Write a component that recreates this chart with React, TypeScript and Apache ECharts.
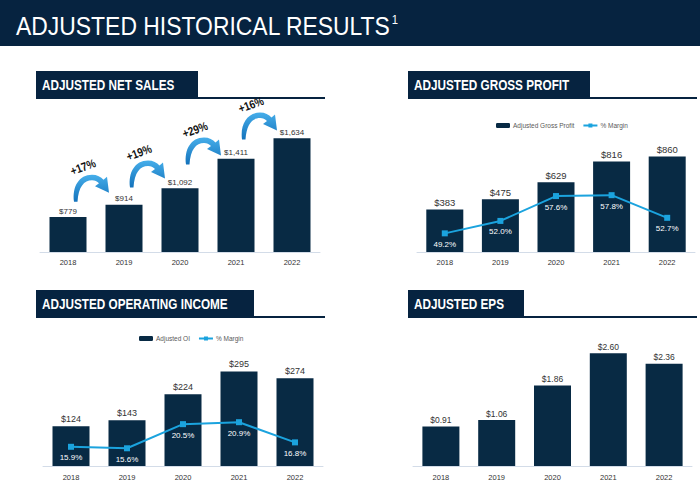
import React, { useEffect, useRef } from "react";
import * as echarts from "echarts";

// ---------- data ----------
const years = ["2018", "2019", "2020", "2021", "2022"];
const netSales = [779, 914, 1092, 1411, 1634];
const netSalesGrowth = ["+17%", "+19%", "+29%", "+16%"];
const grossProfit = [383, 475, 629, 816, 860];
const grossMargin = [49.2, 52.0, 57.6, 57.8, 52.7];
const operatingIncome = [124, 143, 224, 295, 274];
const oiMargin = [15.9, 15.6, 20.5, 20.9, 16.8];
const eps = [0.91, 1.06, 1.86, 2.6, 2.36];

const pageTitle = "ADJUSTED HISTORICAL RESULTS";
const pageTitleNote = "1";
const sectionTitles = [
  "ADJUSTED NET SALES",
  "ADJUSTED GROSS PROFIT",
  "ADJUSTED OPERATING INCOME",
  "ADJUSTED EPS",
];
const legendGross = ["Adjusted Gross Profit", "% Margin"];
const legendOI = ["Adjusted OI", "% Margin"];

// ---------- styles ----------
const FONT = "'Liberation Sans', Arial, sans-serif";
const SQUEEZE = 0.84;
const NAVY = "#082a44";
const HEADER = "#062340";
const CYAN = "#1ba3de";

const ARROW_D =
  "M1,29 C-1,14 6,2 19,2 C24,2 28,4 30.5,7 L34,4 L36,20 L22,13.5 L26,10.5 C24,8.5 22,7.5 19,7.5 C11,7.5 5.5,14 4.5,29 Z";
let shapeRegistered = false;
function ensureShape() {
  if (!shapeRegistered) {
    echarts.graphic.registerShape("curvedArrow", echarts.graphic.extendPath(ARROW_D, {}));
    shapeRegistered = true;
  }
}

const fmtMoney = (v: number) => "$" + v.toLocaleString("en-US");
const fmtEps = (v: number) => "$" + v.toFixed(2);
const fmtPct = (v: number) => v.toFixed(1) + "%";

export default function App() {
  const ref = useRef<HTMLDivElement>(null);

  useEffect(() => {
    if (!ref.current) return;
    ensureShape();
    const chart = echarts.init(ref.current, null, { renderer: "svg" });

    const catAxis = (gridIndex: number, margin: number) => ({
      type: "category",
      gridIndex,
      data: years,
      axisLine: { lineStyle: { color: "#d3dce8", width: 1 } },
      axisTick: { show: false },
      axisLabel: { fontFamily: FONT, fontSize: 7.5, color: "#333", margin },
    });
    const valAxis = (gridIndex: number, min: number, max: number) => ({
      type: "value",
      gridIndex,
      min,
      max,
      show: false,
    });
    const barSeries = (
      name: string,
      xi: number,
      yi: number,
      data: number[],
      fmt: (v: number) => string,
      fontSize: number,
      distance: number
    ) => ({
      type: "bar",
      name,
      xAxisIndex: xi,
      yAxisIndex: yi,
      data,
      barWidth: 37,
      itemStyle: { color: NAVY },
      label: {
        show: true,
        position: "top",
        distance,
        formatter: (p: any) => fmt(p.value),
        fontFamily: FONT,
        fontSize,
        color: "#333",
      },
    });
    const lineSeries = (xi: number, yi: number, data: number[]) => ({
      type: "line",
      name: "% Margin",
      xAxisIndex: xi,
      yAxisIndex: yi,
      data,
      symbol: "rect",
      symbolSize: 6,
      lineStyle: { color: CYAN, width: 2 },
      itemStyle: { color: CYAN },
      z: 3,
      label: {
        show: true,
        position: "bottom",
        distance: 4,
        formatter: (p: any) => fmtPct(p.value),
        color: "#ffffff",
        fontFamily: FONT,
        fontSize: 8,
      },
    });
    const legendCommon = {
      orient: "horizontal",
      padding: 0,
      itemWidth: 14,
      itemHeight: 5,
      itemGap: 8,
      selectedMode: false,
      textStyle: { fontFamily: FONT, fontSize: 6.5, color: "#595959", padding: [0, 0, 0, -2] },
    };

    chart.setOption({
      animation: false,
      backgroundColor: "#ffffff",
      grid: [
        { left: 40, top: 123, width: 280, height: 129 },
        { left: 417, top: 141, width: 278, height: 111 },
        { left: 43, top: 338, width: 280, height: 128 },
        { left: 413, top: 336, width: 279, height: 130 },
      ],
      xAxis: [catAxis(0, 6), catAxis(1, 6), catAxis(2, 7), catAxis(3, 7)],
      yAxis: [
        valAxis(0, 400, 1800),
        valAxis(1, 0, 1000),
        valAxis(1, 45, 70),
        valAxis(2, 0, 400),
        valAxis(2, 12, 38),
        valAxis(3, 0, 3),
      ],
      legend: [
        { ...legendCommon, data: legendGross, left: 496, top: 122 },
        { ...legendCommon, data: legendOI, left: 139, top: 335 },
      ],
      series: [
        barSeries("Adjusted Net Sales", 0, 0, netSales, fmtMoney, 8, 2),
        barSeries("Adjusted Gross Profit", 1, 1, grossProfit, fmtMoney, 9.5, 2),
        lineSeries(1, 2, grossMargin),
        barSeries("Adjusted OI", 2, 3, operatingIncome, fmtMoney, 9, 3),
        lineSeries(2, 4, oiMargin),
        barSeries("Adjusted EPS", 3, 5, eps, fmtEps, 8.5, 2),
      ],
    });

    // ----- decorations -----
    const graphics: any[] = [];
    graphics.push({ type: "rect", shape: { x: 0, y: 0, width: 700, height: 46 }, style: { fill: HEADER } });
    graphics.push({
      type: "text",
      x: 16,
      y: 26,
      scaleX: 0.865,
      style: {
        text: "{t|" + pageTitle + "}{s|" + pageTitleNote + "}",
        verticalAlign: "middle",
        rich: {
          t: { fontSize: 26.5, fontFamily: FONT, fill: "#ffffff", lineHeight: 28 },
          s: { fontSize: 13, fontFamily: FONT, fill: "#ffffff", verticalAlign: "top", padding: [1, 0, 0, 1] },
        },
      },
    });

    const headers = [
      { x: 36, y: 71, w: 162, end: 325 },
      { x: 408, y: 71, w: 182, end: 697 },
      { x: 36, y: 290, w: 218, end: 325 },
      { x: 408, y: 290, w: 116, end: 697 },
    ];
    headers.forEach((h, i) => {
      graphics.push({ type: "rect", shape: { x: h.x, y: h.y, width: h.w, height: 28 }, style: { fill: HEADER } });
      graphics.push({
        type: "line",
        shape: { x1: h.x + h.w, y1: h.y + 27, x2: h.end, y2: h.y + 27 },
        style: { stroke: HEADER, lineWidth: 2 },
      });
      graphics.push({
        type: "text",
        x: h.x + 6,
        y: h.y + 14,
        scaleX: SQUEEZE,
        style: {
          text: sectionTitles[i],
          fontFamily: FONT,
          fontWeight: "bold",
          fontSize: 14,
          fill: "#ffffff",
          verticalAlign: "middle",
        },
      });
    });

    for (let i = 0; i < netSalesGrowth.length; i++) {
      const p1 = chart.convertToPixel({ gridIndex: 0 } as any, [i, netSales[i]]) as number[];
      const p2 = chart.convertToPixel({ gridIndex: 0 } as any, [i + 1, netSales[i + 1]]) as number[];
      const bottom = (p1[1] + p2[1]) / 2 - 9;
      const top = bottom - 29;
      const left = p1[0] + 5;
      graphics.push({
        type: "curvedArrow",
        x: left,
        y: top,
        scaleX: 1,
        scaleY: 1,
        style: {
          fill: {
            type: "linear",
            x: 0,
            y: 0,
            x2: 0,
            y2: 1,
            colorStops: [
              { offset: 0, color: "#46aeea" },
              { offset: 1, color: "#1372bb" },
            ],
          },
        },
      });
      graphics.push({
        type: "text",
        x: left + 10,
        y: top - 6,
        rotation: 0.35,
        scaleX: SQUEEZE,
        style: {
          text: netSalesGrowth[i],
          fontFamily: FONT,
          fontWeight: "bold",
          fontSize: 12,
          fill: "#111111",
          align: "center",
          verticalAlign: "middle",
        },
      });
    }

    chart.setOption({ graphic: graphics });

    return () => chart.dispose();
  }, []);

  return (
    <div
      ref={ref}
      style={{ position: "fixed", left: 0, top: 0, width: 700, height: 488, background: "#fff" }}
    />
  );
}
